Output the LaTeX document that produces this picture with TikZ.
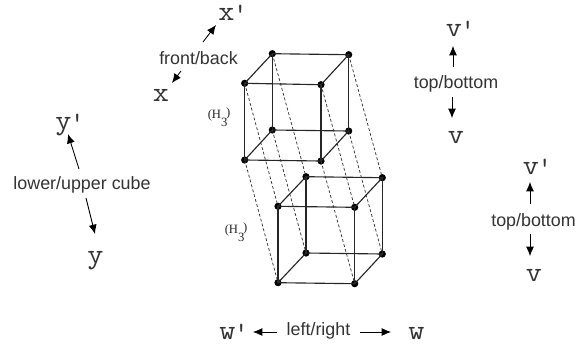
\documentclass[tikz,border=0pt]{standalone}
\usepackage{fontspec}
\setmainfont{Liberation Sans}
\newfontfamily\serifH{Liberation Serif}
\usetikzlibrary{arrows.meta}
\newcommand{\ltr}[1]{\scalebox{1.12}[1]{#1}}
\newcommand{\prm}{\kern-1pt\raisebox{-2pt}{'}}
\tikzset{
  x=0.75pt,y=-0.75pt,
  dot/.style={circle,fill=black,inner sep=0pt,minimum size=5.4pt},
  edge/.style={line width=0.85pt,black!85},
  link/.style={line width=0.55pt,black!80,dash pattern=on 2.2pt off 1.6pt},
  arr/.style={-{Latex[length=7pt,width=6pt]},line width=0.65pt,black},
  letter/.style={inner sep=0pt,anchor=base west,font=\ttfamily\fontsize{21}{21}\selectfont,text=black!80},
  capt/.style={inner sep=0pt,font=\fontsize{13.4}{15}\selectfont,text=black!80},
  hlabel/.style={inner sep=0pt,anchor=base west,font=\serifH\fontsize{9.5}{9.5}\selectfont,text=black!85}
}
\begin{document}
\begin{tikzpicture}
\useasboundingbox (0,0) rectangle (579,347);
% upper cube
\node[dot] (ua) at (272.3,53.7) {};
\node[dot] (ub) at (348.7,54.7) {};
\node[dot] (uc) at (244.7,83.3) {};
\node[dot] (ud) at (321,84.7) {};
\node[dot] (ue) at (272.3,130) {};
\node[dot] (uf) at (348.7,131) {};
\node[dot] (ug) at (244.7,160) {};
\node[dot] (uh) at (321,161) {};
% lower cube
\node[dot] (la) at (306,176.7) {};
\node[dot] (lb) at (382.3,177.7) {};
\node[dot] (lc) at (278,206.3) {};
\node[dot] (ld) at (354.7,207.3) {};
\node[dot] (le) at (306,253) {};
\node[dot] (lf) at (382.3,254) {};
\node[dot] (lg) at (278,282.7) {};
\node[dot] (lh) at (354.7,283.7) {};
\foreach \p in {u,l}{
  \draw[edge] (\p a.center)--(\p b.center)--(\p d.center)--(\p c.center)--(\p a.center);
  \draw[edge] (\p e.center)--(\p f.center)--(\p h.center)--(\p g.center)--(\p e.center);
  \draw[edge] (\p a.center)--(\p e.center);
  \draw[edge] (\p b.center)--(\p f.center);
  \draw[edge] (\p c.center)--(\p g.center);
  \draw[edge] (\p d.center)--(\p h.center);
}
\foreach \v in {a,b,c,d,e,f,g,h}{\draw[link] (u\v.center)--(l\v.center);}
% letters
\node[letter] (xp) at (218,20) {\ltr{x}\prm};
\node[letter] (x) at (152.5,101) {\ltr{x}};
\node[letter] (yp) at (55,129) {\ltr{y}\prm};
\node[letter] (y) at (87,263) {\ltr{y}};
\node[letter] (vp) at (445.5,36) {\ltr{v}\prm};
\node[letter] (v) at (447.5,143) {\ltr{v}};
\node[letter] (vpb) at (522.5,174) {\ltr{v}\prm};
\node[letter] (vb) at (525.5,281) {\ltr{v}};
\node[letter] (wp) at (219,339) {\ltr{w}\prm};
\node[letter] (w) at (408,339) {\ltr{w}};
% captions
\node[capt] (fb) at (198.5,58) {front/back};
\node[capt] (lu) at (82,185) {lower/upper cube};
\node[capt] (tb) at (456,83.5) {top/bottom};
\node[capt] (tbb) at (533.5,221.5) {top/bottom};
\node[capt] (lr) at (318.5,331) {left/right};
% H3
\node[hlabel] (h1) at (207.5,118) {(H\raisebox{-6pt}{3}\kern-1pt\raisebox{1pt}{)}};
\node[hlabel] (h2) at (224.5,233) {(H\raisebox{-6pt}{3}\kern-1pt\raisebox{1pt}{)}};
% arrows
\coordinate (a1s) at (203,42); \coordinate (a1e) at (216,25);
\coordinate (a2s) at (181,71); \coordinate (a2e) at (172,83);
\coordinate (a3s) at (79,169); \coordinate (a3e) at (68,134);
\coordinate (a4s) at (86,198); \coordinate (a4e) at (95,234);
\coordinate (a5s) at (453,67); \coordinate (a5e) at (453,46);
\coordinate (a6s) at (452,97); \coordinate (a6e) at (452,118);
\coordinate (a7s) at (530,204); \coordinate (a7e) at (530,182);
\coordinate (a8s) at (530,234); \coordinate (a8e) at (530,256);
\coordinate (a9s) at (277,332); \coordinate (a9e) at (253,332);
\coordinate (a10s) at (360,332); \coordinate (a10e) at (391,332);
\foreach \i in {1,...,10}{\draw[arr] (a\i s)--(a\i e);}
\end{tikzpicture}
\end{document}
